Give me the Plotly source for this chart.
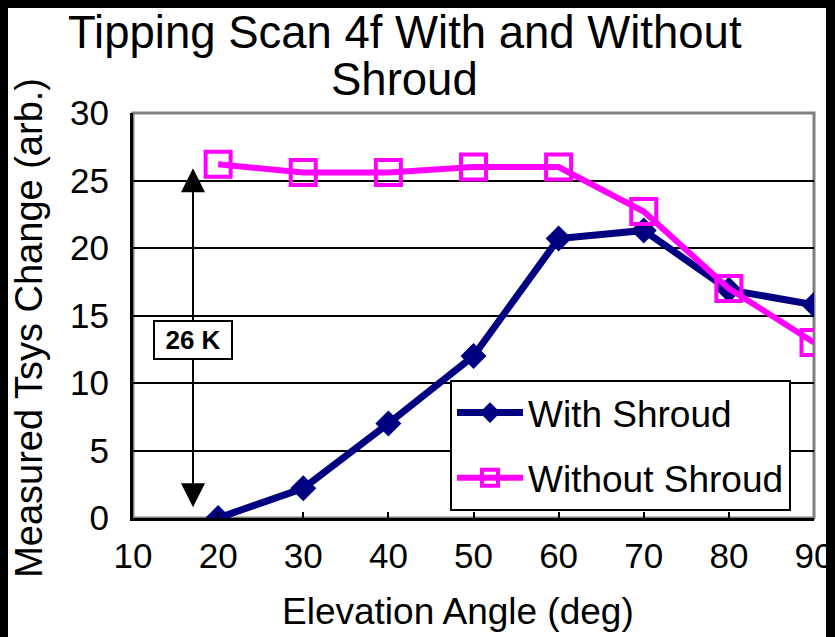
import plotly.graph_objects as go

# elevation angles (deg)
elevation = [20, 30, 40, 50, 60, 70, 80, 90]
# measured Tsys change (arb.)
with_shroud = [0.0, 2.2, 7.0, 12.0, 20.7, 21.3, 16.9, 15.8]
without_shroud = [26.2, 25.6, 25.6, 26.0, 26.0, 22.7, 17.0, 13.0]

x_ticks = [10, 20, 30, 40, 50, 60, 70, 80, 90]
y_ticks = [0, 5, 10, 15, 20, 25, 30]

# span marker: arrow from the label box up to ~26 and down to ~0
span_x = 17.05
span_label_y = 13.2
span_top = 25.9
span_bottom = 0.8

NAVY = "#000080"
MAGENTA = "#FF00FF"
FONT = "Liberation Sans, Arial, sans-serif"

fig = go.Figure()
fig.add_trace(go.Scatter(
    x=elevation, y=with_shroud, name="With Shroud", mode="lines+markers",
    line=dict(color=NAVY, width=7),
    marker=dict(symbol="diamond", size=20, color=NAVY),
    legendgroup="a",
))
fig.add_trace(go.Scatter(
    x=elevation, y=without_shroud, name="Without Shroud", mode="lines+markers",
    line=dict(color=MAGENTA, width=6),
    marker=dict(symbol="square-open", size=25, color=MAGENTA, line=dict(width=4)),
    legendgroup="b",
))

# white page inside the black frame
fig.add_shape(type="rect", xref="paper", yref="paper",
              x0=-0.185, x1=1.0176, y0=-0.4, y1=1.2667,
              fillcolor="white", line=dict(width=0), layer="below")
# gray top/right border of the plot area
fig.add_shape(type="rect", xref="paper", yref="paper", x0=0, x1=1, y0=0, y1=1,
              line=dict(color="#808080", width=3), layer="below")

arrow = dict(xref="x", yref="y", axref="x", ayref="y", text="", showarrow=True,
             arrowhead=2, arrowsize=2.4, arrowwidth=2, arrowcolor="black")
fig.add_annotation(x=span_x, y=span_top, ax=span_x, ay=span_label_y, **arrow)
fig.add_annotation(x=span_x, y=span_bottom, ax=span_x, ay=span_label_y, **arrow)
fig.add_annotation(x=span_x, y=span_label_y, xref="x", yref="y", showarrow=False,
                   text="<b>26 K</b>", font=dict(size=26, color="black", family=FONT),
                   width=72, height=32, align="center",
                   bgcolor="white", bordercolor="black", borderwidth=2, borderpad=2)

# titles
title_font = dict(size=45.5, color="black", family=FONT)
fig.add_annotation(x=0.3994, y=1.2, xref="paper", yref="paper", showarrow=False,
                   xanchor="center", yanchor="middle",
                   text="Tipping Scan 4f With and Without", font=title_font)
fig.add_annotation(x=0.3994, y=1.083, xref="paper", yref="paper", showarrow=False,
                   xanchor="center", yanchor="middle",
                   text="Shroud", font=title_font)
fig.add_annotation(x=0.477, y=-0.232, xref="paper", yref="paper", showarrow=False,
                   xanchor="center", yanchor="middle",
                   text="Elevation Angle (deg)",
                   font=dict(size=37, color="black", family=FONT))
fig.add_annotation(x=-0.153, y=0.469, xref="paper", yref="paper", showarrow=False,
                   xanchor="center", yanchor="middle",
                   text="Measured Tsys Change (arb.)", textangle=-90,
                   font=dict(size=38, color="black", family=FONT))

fig.update_xaxes(
    range=[10, 90], tickvals=x_ticks, showgrid=False, zeroline=False,
    showline=True, linecolor="black", linewidth=3,
    ticks="inside", ticklen=6, tickwidth=2, tickcolor="black",
    ticklabelstandoff=5,
    tickfont=dict(size=35, color="black", family=FONT),
)
fig.update_yaxes(
    range=[0, 30], tickvals=y_ticks, showgrid=True, gridcolor="black", gridwidth=2,
    zeroline=False, showline=True, linecolor="black", linewidth=3,
    ticks="inside", ticklen=10, tickwidth=2, tickcolor="black",
    ticklabelstandoff=14,
    tickfont=dict(size=35, color="black", family=FONT),
)
# the page puts the figure 8px in from the top-left corner
fig.update_layout(
    width=827, height=629,
    margin=dict(l=125, r=21, t=105, b=119, autoexpand=False),
    paper_bgcolor="black", plot_bgcolor="white",
    font=dict(family=FONT, color="black"),
    showlegend=True,
    legend=dict(
        x=0.4655, y=0.3407, xanchor="left", yanchor="top",
        bgcolor="white", bordercolor="black", borderwidth=2,
        font=dict(size=37, color="black", family=FONT),
        traceorder="grouped", tracegroupgap=14, itemwidth=66,
    ),
)

fig.write_html("out.html", post_script="document.body.style.background='black';")
